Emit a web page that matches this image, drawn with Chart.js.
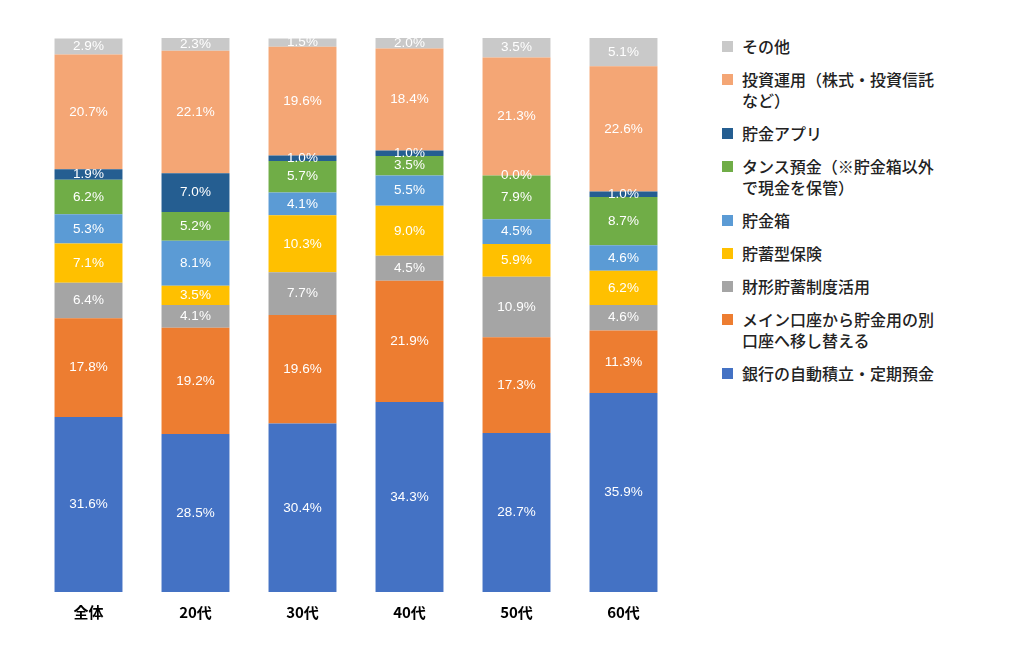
<!DOCTYPE html>
<html><head><meta charset="utf-8">
<script src="https://cdn.jsdelivr.net/npm/chart.js@4"></script>
<style>
body{margin:0;background:#fff;font-family:"Noto Sans CJK JP",sans-serif;}
#wrap{position:absolute;left:0;top:0;width:680px;height:658px;}
#legend{position:absolute;left:722px;top:36px;font-size:16px;font-weight:500;color:#222;line-height:21px;}
#legend div{position:relative;padding-left:20px;margin-bottom:12px;width:270px;}
#legend span{position:absolute;left:0;top:5px;width:11px;height:11px;}
</style></head><body>
<div id="wrap"><canvas id="c"></canvas></div>
<div id="legend"></div>
<script>
const categories = ["全体", "20代", "30代", "40代", "50代", "60代"];
const seriesNames = ["銀行の自動積立・定期預金", "メイン口座から貯金用の別口座へ移し替える", "財形貯蓄制度活用", "貯蓄型保険", "貯金箱", "タンス預金（※貯金箱以外で現金を保管）", "貯金アプリ", "投資運用（株式・投資信託など）", "その他"];
const colors = ["#4472C4", "#ED7D31", "#A5A5A5", "#FFC000", "#5B9BD5", "#70AD47", "#255E91", "#F4A675", "#C9C9C9"];
const bank = [31.6, 28.5, 30.4, 34.3, 28.7, 35.9];
const transfer = [17.8, 19.2, 19.6, 21.9, 17.3, 11.3];
const zaikei = [6.4, 4.1, 7.7, 4.5, 10.9, 4.6];
const insurance = [7.1, 3.5, 10.3, 9.0, 5.9, 6.2];
const piggy = [5.3, 8.1, 4.1, 5.5, 4.5, 4.6];
const tansu = [6.2, 5.2, 5.7, 3.5, 7.9, 8.7];
const app = [1.9, 7.0, 1.0, 1.0, 0.0, 1.0];
const invest = [20.7, 22.1, 19.6, 18.4, 21.3, 22.6];
const other = [2.9, 2.3, 1.5, 2.0, 3.5, 5.1];
const series = [bank, transfer, zaikei, insurance, piggy, tansu, app, invest, other];

const legendNames = ["その他", "投資運用（株式・投資信託<br>など）", "貯金アプリ", "タンス預金（※貯金箱以外<br>で現金を保管）", "貯金箱", "貯蓄型保険", "財形貯蓄制度活用", "メイン口座から貯金用の別<br>口座へ移し替える", "銀行の自動積立・定期預金"];
const lg = document.getElementById("legend");
legendNames.forEach((n, i) => {
  const d = document.createElement("div");
  d.innerHTML = '<span style="background:' + colors[8 - i] + '"></span>' + n;
  lg.appendChild(d);
});

const labelPlugin = {
  id: "labels",
  afterDatasetsDraw(chart) {
    const ctx = chart.ctx;
    ctx.save();
    ctx.font = "13.5px 'Liberation Sans', Arial";
    ctx.fillStyle = "#fff";
    ctx.textAlign = "center";
    ctx.textBaseline = "middle";
    chart.data.datasets.forEach((ds, i) => {
      chart.getDatasetMeta(i).data.forEach((bar, j) => {
        const y = (bar.y + bar.base) / 2;
        ctx.fillText(ds.data[j].toFixed(1) + "%", bar.x, y);
      });
    });
    ctx.restore();
  }
};

new Chart(document.getElementById("c"), {
  type: "bar",
  data: {
    labels: categories,
    datasets: series.map((d, i) => ({
      label: seriesNames[i], data: d, backgroundColor: colors[i],
      categoryPercentage: 1, barPercentage: 0.635
    }))
  },
  options: {
    responsive: true, maintainAspectRatio: false, animation: false,
    layout: { padding: { left: 35, right: 3, top: 38, bottom: 34 } },
    plugins: { legend: { display: false }, tooltip: { enabled: false } },
    scales: {
      x: { stacked: true, grid: { display: false }, border: { display: false },
        ticks: { color: "#000", font: { size: 15, weight: "bold", family: "'Noto Sans CJK JP'" } } },
      y: { stacked: true, display: false, min: 0, max: 100 }
    }
  },
  plugins: [labelPlugin]
});
</script>
</body></html>
